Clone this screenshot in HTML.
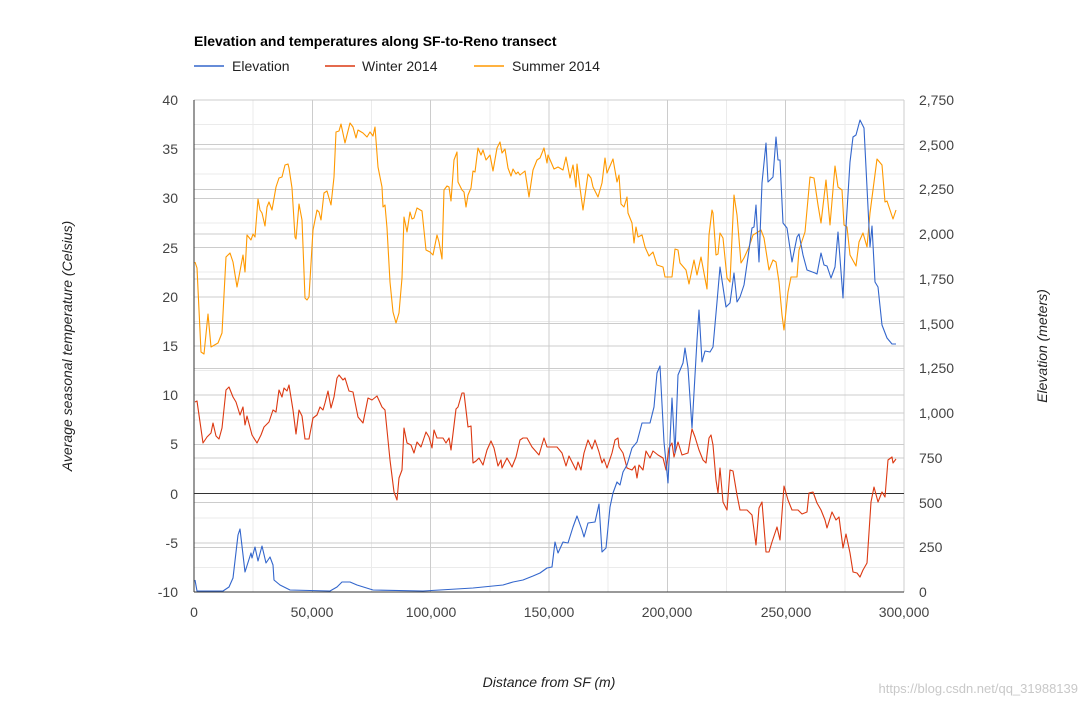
<!DOCTYPE html>
<html><head><meta charset="utf-8"><style>
body{margin:0;background:#fff;}
svg{display:block;font-family:"Liberation Sans",Arial,sans-serif;}
</style></head><body>
<svg width="1087" height="705" viewBox="0 0 1087 705" xmlns="http://www.w3.org/2000/svg">
<rect width="1087" height="705" fill="#fff"/>
<g stroke-width="1" shape-rendering="crispEdges">
<!-- minor vertical -->
<g stroke="#ebebeb">
<line x1="253.2" y1="100" x2="253.2" y2="592"/><line x1="371.5" y1="100" x2="371.5" y2="592"/><line x1="489.8" y1="100" x2="489.8" y2="592"/><line x1="608.2" y1="100" x2="608.2" y2="592"/><line x1="726.5" y1="100" x2="726.5" y2="592"/><line x1="844.8" y1="100" x2="844.8" y2="592"/>
<line x1="194" y1="124.6" x2="904" y2="124.6"/><line x1="194" y1="173.8" x2="904" y2="173.8"/><line x1="194" y1="223" x2="904" y2="223"/><line x1="194" y1="272.2" x2="904" y2="272.2"/><line x1="194" y1="321.4" x2="904" y2="321.4"/><line x1="194" y1="370.6" x2="904" y2="370.6"/><line x1="194" y1="419.8" x2="904" y2="419.8"/><line x1="194" y1="469" x2="904" y2="469"/><line x1="194" y1="518.2" x2="904" y2="518.2"/><line x1="194" y1="567.4" x2="904" y2="567.4"/>
</g>
<g stroke="#cccccc">
<line x1="312.3" y1="100" x2="312.3" y2="592"/><line x1="430.7" y1="100" x2="430.7" y2="592"/><line x1="549" y1="100" x2="549" y2="592"/><line x1="667.3" y1="100" x2="667.3" y2="592"/><line x1="785.7" y1="100" x2="785.7" y2="592"/><line x1="904" y1="100" x2="904" y2="592"/>
<line x1="194" y1="100" x2="904" y2="100"/><line x1="194" y1="149.2" x2="904" y2="149.2"/><line x1="194" y1="198.4" x2="904" y2="198.4"/><line x1="194" y1="247.6" x2="904" y2="247.6"/><line x1="194" y1="296.8" x2="904" y2="296.8"/><line x1="194" y1="346" x2="904" y2="346"/><line x1="194" y1="395.2" x2="904" y2="395.2"/><line x1="194" y1="444.4" x2="904" y2="444.4"/><line x1="194" y1="542.8" x2="904" y2="542.8"/>
<line x1="194" y1="144.7" x2="904" y2="144.7"/><line x1="194" y1="189.4" x2="904" y2="189.4"/><line x1="194" y1="234.2" x2="904" y2="234.2"/><line x1="194" y1="278.9" x2="904" y2="278.9"/><line x1="194" y1="323.6" x2="904" y2="323.6"/><line x1="194" y1="368.4" x2="904" y2="368.4"/><line x1="194" y1="413.1" x2="904" y2="413.1"/><line x1="194" y1="457.8" x2="904" y2="457.8"/><line x1="194" y1="502.5" x2="904" y2="502.5"/><line x1="194" y1="547.3" x2="904" y2="547.3"/>
</g>
<line x1="194" y1="493.6" x2="904" y2="493.6" stroke="#333"/>
<line x1="194" y1="592" x2="904" y2="592" stroke="#333"/>
<line x1="194" y1="100" x2="194" y2="592" stroke="#333"/>
</g>
<g fill="none" stroke-width="1.1" stroke-linejoin="round">
<polyline stroke="#ff9900" points="195,262 197,268 201,352 204,354 208,314 211,347 218,343 222,333 226,257 230,253 233,262 237,287 243,255 245,272 247,235 251,240 253,234 255,237 258,199 260,210 262,213 265,226 267,207 269,202 272,210 276,187 279,178 282,177 285,165 288,164 289,168 292,188 295,237 296,239 299,204 302,220 305,298 307,300 309,297 313,230 317,210 319,212 321,220 324,193 327,191 331,205 334,177 336,132 339,131 341,124 345,143 350,123 353,127 356,138 358,130 363,133 367,137 370,132 373,136 375,127 378,167 382,187 383,207 385,205 387,228 390,282 393,312 396,323 399,313 402,278 404,217 407,232 410,212 412,219 414,218 417,208 422,211 426,250 430,252 433,255 437,235 439,242 442,259 444,190 447,186 449,187 451,201 454,160 457,152 458,182 462,190 464,192 466,207 468,195 471,188 473,171 475,172 478,148 481,155 483,150 486,160 490,155 493,171 497,148 500,142 502,153 505,149 508,168 511,176 513,169 516,174 518,172 520,175 525,171 529,197 533,170 537,160 540,158 544,148 547,163 548,155 554,169 558,167 563,170 566,157 570,178 573,165 576,187 577,164 580,188 583,210 588,174 591,178 593,187 598,197 602,183 605,158 607,173 613,159 617,182 619,175 621,204 624,207 627,197 628,213 632,223 634,243 636,227 638,237 642,235 645,247 649,256 653,252 657,265 663,267 665,277 672,277 675,249 678,250 680,263 686,270 689,284 694,260 697,275 701,257 707,289 709,235 712,210 713,213 716,255 718,254 720,233 723,238 727,278 730,282 734,195 737,215 741,263 744,258 749,247 753,235 758,232 761,230 764,238 769,270 773,260 776,262 779,282 782,315 784,330 788,292 791,277 797,277 799,250 805,232 810,177 814,178 818,205 821,223 826,180 830,225 835,166 838,187 842,190 844,225 847,227 850,255 856,266 859,242 863,233 867,247 870,213 877,159 882,165 885,202 887,201 893,219 896,210"/>
<polyline stroke="#dc3912" points="195,402 197,401 203,443 207,437 211,433 213,423 216,436 219,439 222,428 226,390 229,387 233,397 236,402 240,415 243,407 245,425 247,416 252,435 257,443 261,435 264,427 269,422 273,410 276,412 279,390 282,397 284,388 287,391 289,385 293,410 296,434 299,410 302,416 305,439 309,439 313,418 317,415 320,407 323,410 325,403 328,391 331,408 334,397 337,378 339,375 343,380 345,378 349,391 353,392 358,417 363,423 368,398 372,400 377,396 382,407 385,410 390,460 394,492 397,500 399,478 402,470 404,428 407,443 411,445 414,453 417,442 421,447 426,432 429,437 432,448 434,430 437,438 443,438 446,443 449,438 451,450 456,409 458,407 462,393 464,393 468,427 471,426 473,463 476,461 479,458 483,465 487,450 491,441 494,448 498,466 501,460 502,468 507,458 512,467 516,457 520,440 523,438 527,438 532,447 539,455 544,438 547,447 557,447 562,453 566,466 569,456 572,462 576,470 578,462 581,470 584,453 588,440 592,449 595,440 599,452 602,463 604,459 607,468 612,453 615,440 618,438 619,447 623,453 627,468 632,470 635,466 637,478 639,465 643,470 646,451 650,458 653,451 658,455 663,458 666,470 669,448 672,443 674,457 678,442 682,455 688,453 692,429 695,437 699,450 703,460 706,463 709,438 711,435 713,445 716,480 718,493 720,468 723,502 727,510 730,470 733,471 737,495 740,510 747,510 752,515 756,545 759,508 762,502 766,552 769,552 772,542 777,527 780,540 784,486 788,500 792,510 798,510 802,514 807,512 809,493 813,492 817,503 821,510 825,520 827,528 832,512 836,520 839,517 843,548 846,534 850,553 853,572 857,573 860,577 863,570 867,563 871,502 874,487 878,502 882,492 885,497 888,460 892,457 893,463 896,459"/>
<polyline stroke="#3366cc" points="195,580 197,591 223,591 229,587 233,578 238,535 240,529 245,572 251,553 252,558 255,547 258,561 262,546 266,563 270,557 273,565 274,580 280,585 290,590 330,591 337,587 342,582 350,582 357,585 373,590 423,591 473,588 503,585 513,582 523,580 533,576 540,573 547,568 552,567 555,542 558,553 563,542 568,543 573,527 577,516 582,530 584,537 588,523 595,522 599,504 602,552 606,548 610,507 613,493 617,482 620,485 623,472 627,465 632,448 637,442 642,423 646,423 650,423 654,407 657,373 660,366 664,442 668,483 672,398 675,453 678,375 683,363 685,348 688,368 692,428 697,340 699,310 702,362 705,351 710,352 713,347 717,302 720,267 726,307 730,303 734,273 737,302 740,297 744,285 748,257 752,228 754,227 756,205 759,262 762,183 766,143 768,182 773,177 776,137 778,160 780,160 783,223 787,228 792,262 797,237 799,234 803,255 807,270 815,273 817,274 821,253 824,265 827,266 831,278 835,267 838,232 843,298 846,227 850,162 853,137 856,135 860,120 864,128 870,247 872,226 875,282 878,287 882,325 887,338 892,344 896,344"/>
</g>
<text x="194" y="46" font-size="14" font-weight="bold" fill="#000">Elevation and temperatures along SF-to-Reno transect</text>
<g font-size="14" fill="#222">
<line x1="194" y1="66" x2="224" y2="66" stroke="#3366cc" stroke-width="1.5"/><text x="232" y="71">Elevation</text>
<line x1="325" y1="66" x2="355" y2="66" stroke="#dc3912" stroke-width="1.5"/><text x="362" y="71">Winter 2014</text>
<line x1="474" y1="66" x2="504" y2="66" stroke="#ff9900" stroke-width="1.5"/><text x="512" y="71">Summer 2014</text>
</g>
<g font-size="14" fill="#444" text-anchor="end">
<text x="178" y="105">40</text><text x="178" y="154">35</text><text x="178" y="203">30</text><text x="178" y="253">25</text><text x="178" y="302">20</text><text x="178" y="351">15</text><text x="178" y="400">10</text><text x="178" y="449">5</text><text x="178" y="499">0</text><text x="178" y="548">-5</text><text x="178" y="597">-10</text>
</g>
<g font-size="14" fill="#444">
<text x="919" y="105">2,750</text><text x="919" y="150">2,500</text><text x="919" y="194">2,250</text><text x="919" y="239">2,000</text><text x="919" y="284">1,750</text><text x="919" y="329">1,500</text><text x="919" y="373">1,250</text><text x="919" y="418">1,000</text><text x="919" y="463">750</text><text x="919" y="508">500</text><text x="919" y="552">250</text><text x="919" y="597">0</text>
</g>
<g font-size="14" fill="#444" text-anchor="middle">
<text x="194" y="617">0</text><text x="312" y="617">50,000</text><text x="431" y="617">100,000</text><text x="549" y="617">150,000</text><text x="667" y="617">200,000</text><text x="786" y="617">250,000</text><text x="904" y="617">300,000</text>
</g>
<g font-size="14" fill="#222" font-style="italic" text-anchor="middle">
<text x="549" y="687">Distance from SF (m)</text>
<text transform="translate(72,346) rotate(-90)">Average seasonal temperature (Celsius)</text>
<text transform="translate(1047,346) rotate(-90)">Elevation (meters)</text>
</g>
<text x="1078" y="693" font-size="13" fill="#c8c8c8" text-anchor="end">https://blog.csdn.net/qq_31988139</text>
</svg>
</body></html>
